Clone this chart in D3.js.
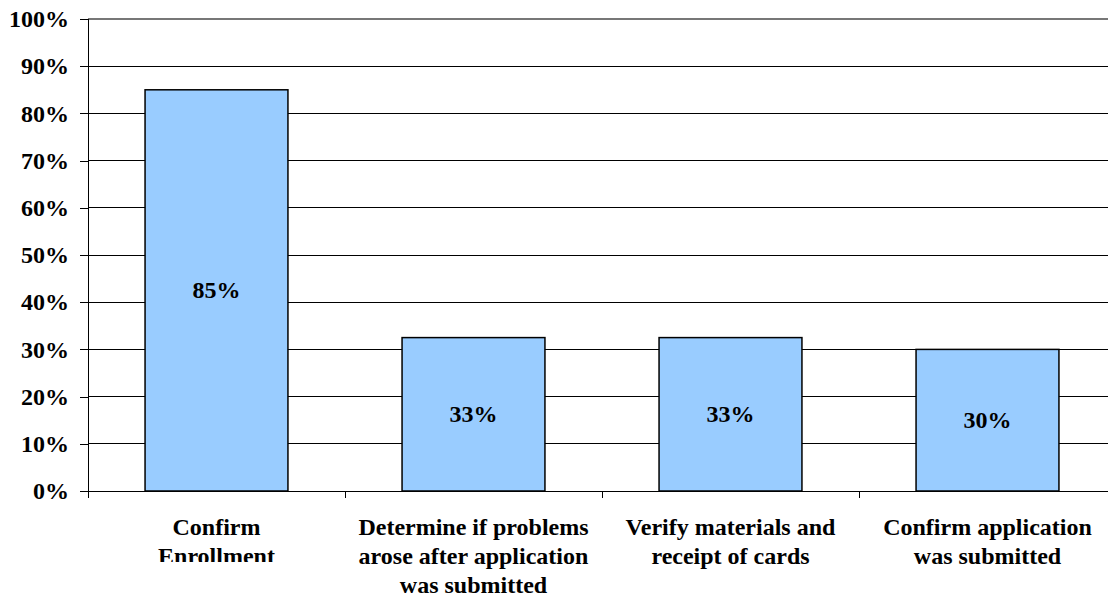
<!DOCTYPE html>
<html>
<head>
<meta charset="utf-8">
<script src="https://cdn.jsdelivr.net/npm/d3@7"></script>
<style>
  html, body { margin: 0; padding: 0; background: #fff; }
  svg { display: block; }
</style>
</head>
<body>
<svg id="chart" width="1108" height="597"></svg>
<script>
// Share of respondents by reason for contacting
const categories = [
  ["Confirm", "Enrollment"],
  ["Determine if problems", "arose after application", "was submitted"],
  ["Verify materials and", "receipt of cards"],
  ["Confirm application", "was submitted"]
];
const values = [85, 32.5, 32.5, 30];
const yTicks = [0, 10, 20, 30, 40, 50, 60, 70, 80, 90, 100];

(function () {
  const FONT = '"Liberation Serif", "Times New Roman", serif';
  const svg = d3.select("#chart");
  const plotLeft = 88, plotRight = 1116, plotTop = 19, plotBottom = 491;

  const x = d3.scaleBand()
    .domain(d3.range(categories.length))
    .range([plotLeft, plotRight])
    .paddingInner(0.444)
    .paddingOuter(0.222);

  const y = d3.scaleLinear().domain([0, 100]).range([plotBottom, plotTop]);

  // horizontal gridlines
  svg.append("g")
    .selectAll("line")
    .data(yTicks.filter(d => d > 0))
    .join("line")
    .attr("x1", plotLeft).attr("x2", 1108)
    .attr("y1", d => y(d)).attr("y2", d => y(d))
    .attr("stroke", d => d === 100 ? "#777" : "#000")
    .attr("stroke-width", d => d === 100 ? 2 : 1)
    .attr("shape-rendering", "crispEdges");

  // y axis
  const yAxis = d3.axisLeft(y)
    .tickValues(yTicks)
    .tickSize(8)
    .tickPadding(11)
    .tickFormat(d => d + "%");
  const gy = svg.append("g").attr("transform", `translate(${plotLeft},0)`).call(yAxis);
  gy.select(".domain").attr("stroke", "#000").attr("shape-rendering", "crispEdges");
  gy.selectAll(".tick line").attr("stroke", "#000").attr("shape-rendering", "crispEdges");
  gy.selectAll(".tick text")
    .style("font-family", FONT)
    .style("font-size", "24px")
    .style("font-weight", "bold")
    .attr("fill", "#000");

  // bars
  svg.append("g")
    .selectAll("rect")
    .data(values)
    .join("rect")
    .attr("x", (d, i) => x(i))
    .attr("y", d => y(d))
    .attr("width", x.bandwidth())
    .attr("height", d => y(0) - y(d))
    .attr("fill", "#99CCFF")
    .attr("stroke", "#000")
    .attr("stroke-width", 1.5);

  // x axis line with category boundary ticks
  const bandStep = x.step();
  const boundaries = d3.range(categories.length + 1).map(i => plotLeft + i * bandStep);
  svg.append("line")
    .attr("x1", plotLeft).attr("x2", 1108)
    .attr("y1", plotBottom).attr("y2", plotBottom)
    .attr("stroke", "#000").attr("shape-rendering", "crispEdges");
  svg.append("g")
    .selectAll("line")
    .data(boundaries)
    .join("line")
    .attr("x1", d => d).attr("x2", d => d)
    .attr("y1", plotBottom).attr("y2", plotBottom + 7)
    .attr("stroke", "#000").attr("shape-rendering", "crispEdges");

  // value labels centered in each bar
  svg.append("g")
    .selectAll("text")
    .data(values)
    .join("text")
    .attr("x", (d, i) => x(i) + x.bandwidth() / 2)
    .attr("y", d => (y(d) + y(0)) / 2)
    .attr("dy", "0.33em")
    .attr("text-anchor", "middle")
    .style("font-family", FONT)
    .style("font-size", "24px")
    .style("font-weight", "bold")
    .attr("fill", "#000")
    .text(d => Math.round(d) + "%");

  // category labels
  svg.append("defs").append("clipPath").attr("id", "labelClip")
    .append("rect").attr("x", 0).attr("y", 0).attr("width", 1108).attr("height", 562);

  const catG = svg.append("g")
    .selectAll("text")
    .data(categories)
    .join("text")
    .attr("text-anchor", "middle")
    .style("font-family", FONT)
    .style("font-size", "24px")
    .style("font-weight", "bold")
    .attr("fill", "#000")
    .attr("clip-path", (d, i) => i === 0 ? "url(#labelClip)" : null);
  catG.selectAll("tspan")
    .data((d, i) => d.map(line => ({ line, i })))
    .join("tspan")
    .attr("x", d => x(d.i) + x.bandwidth() / 2)
    .attr("y", (d, j) => 535 + j * 29)
    .text(d => d.line);
})();
</script>
</body>
</html>
